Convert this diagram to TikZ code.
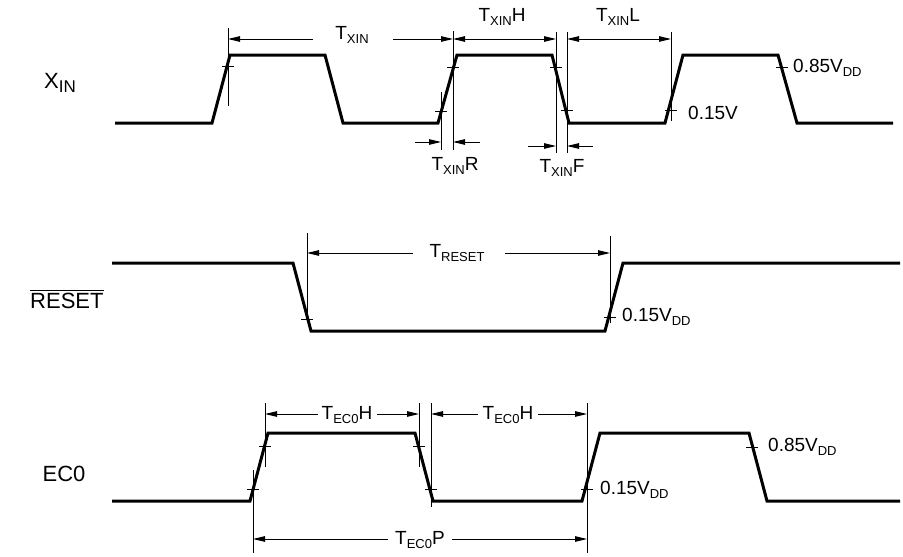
\documentclass[tikz,border=0pt]{standalone}
\usepackage{fontspec}
\setmainfont{Liberation Sans}
\usetikzlibrary{arrows.meta}

\newcommand{\lowtxt}[2][13]{\raisebox{-0.35ex}{\fontsize{#1}{#1}\selectfont #2}}
\newcommand{\lvlmark}[2]{\draw[guide] ({#1-6},#2) -- ({#1+6},#2);}

\tikzset{
 wave/.style={line width=3pt, line join=miter},
 guide/.style={line width=0.9pt},
 dimarrow/.style={guide, -{Triangle[length=12pt,width=5.5pt]}},
 lbl/.style={font=\fontsize{19}{19}\selectfont, inner sep=0pt},
 siglbl/.style={font=\fontsize{22}{22}\selectfont, inner sep=0pt},
}

\begin{document}
\begin{tikzpicture}[x=1pt,y=-1pt]
 \useasboundingbox (0,0) rectangle (903,557);

 % X_IN
 \node[siglbl] (xin) at (60,83) {X\lowtxt[17]{IN}};
 \draw[wave] (115,123)--(212,123)--(230,55)--(325,55)--(343,123)--(438,123)--(457,55)
   --(552,55)--(569,123)--(665,123)--(683,55)--(778,55)--(797,123)--(893,123);
 \draw[guide] (228,28) -- (228,106);
 \draw[guide] (441,92) -- (441,150);
 \draw[guide] (453,31) -- (453,150);
 \draw[guide] (556,32) -- (556,153);
 \draw[guide] (567,32) -- (567,153);
 \draw[guide] (671,32) -- (671,121);
 \lvlmark{228}{66} \lvlmark{441}{111} \lvlmark{453}{67}
 \lvlmark{556}{67} \lvlmark{567}{110} \lvlmark{671}{110} \lvlmark{782}{67}
 \node[lbl] (txin) at (352,35) {T\lowtxt{XIN}};
 \draw[dimarrow] (313,39) -- (228,39);
 \draw[dimarrow] (393,39) -- (453,39);
 \node[lbl] (txinh) at (502,17) {T\lowtxt{XIN}H};
 \draw[dimarrow, {Triangle[length=12pt,width=5.5pt]}-{Triangle[length=12pt,width=5.5pt]}] (453,39) -- (556,39);
 \node[lbl] (txinl) at (618,17) {T\lowtxt{XIN}L};
 \draw[dimarrow, {Triangle[length=12pt,width=5.5pt]}-{Triangle[length=12pt,width=5.5pt]}] (567,39) -- (671,39);
 \node[lbl] (txinr) at (455,166) {T\lowtxt{XIN}R};
 \draw[dimarrow] (415,142) -- (441,142);
 \draw[dimarrow] (480,142) -- (453,142);
 \node[lbl] (txinf) at (562,168) {T\lowtxt{XIN}F};
 \draw[dimarrow] (528,146) -- (556,146);
 \draw[dimarrow] (593,146) -- (567,146);
 \node[lbl, anchor=west] (xlo) at (688,113) {0.15V};
 \node[lbl, anchor=west] (xhi) at (793,68) {0.85V\lowtxt{DD}};

 % RESET
 \node[siglbl, anchor=west] (rst) at (30,301) {RESET};
 \draw[guide] ([yshift=3pt]rst.north west) -- ([yshift=3pt]rst.north east);
 \draw[wave] (112,263)--(293,263)--(311,331)--(605,331)--(623,263)--(900,263);
 \draw[guide] (307,233) -- (307,320);
 \draw[guide] (610,236) -- (610,323);
 \lvlmark{307}{319} \lvlmark{610}{317}
 \node[lbl] (trst) at (457,253) {T\lowtxt{RESET}};
 \draw[dimarrow] (413,253) -- (307,253);
 \draw[dimarrow] (505,253) -- (610,253);
 \node[lbl, anchor=west] (rlo) at (622,317) {0.15V\lowtxt{DD}};

 % EC0
 \node[siglbl] (ec0) at (64,474) {EC0};
 \draw[wave] (112,501)--(250,501)--(268,433)--(415,433)--(433,501)--(582,501)--(600,433)
   --(749,433)--(767,501)--(900,501);
 \draw[guide] (265,403) -- (265,467);
 \draw[guide] (253,470) -- (253,553);
 \draw[guide] (419,403) -- (419,467);
 \draw[guide] (431,403) -- (431,507);
 \draw[guide] (587,403) -- (587,553);
 \lvlmark{253}{489} \lvlmark{265}{446} \lvlmark{419}{446}
 \lvlmark{431}{489} \lvlmark{587}{489} \lvlmark{752}{447}
 \node[lbl] (tech1) at (347,415) {T\lowtxt{EC0}H};
 \draw[dimarrow] (318,414) -- (265,414);
 \draw[dimarrow] (377,414) -- (419,414);
 \node[lbl] (tech2) at (508,415) {T\lowtxt{EC0}H};
 \draw[dimarrow] (478,414) -- (431,414);
 \draw[dimarrow] (538,414) -- (587,414);
 \node[lbl] (tecp) at (420,540) {T\lowtxt{EC0}P};
 \draw[dimarrow] (388,539) -- (253,539);
 \draw[dimarrow] (452,539) -- (587,539);
 \node[lbl, anchor=west] (elo) at (600,490) {0.15V\lowtxt{DD}};
 \node[lbl, anchor=west] (ehi) at (768,447) {0.85V\lowtxt{DD}};
\end{tikzpicture}
\end{document}
